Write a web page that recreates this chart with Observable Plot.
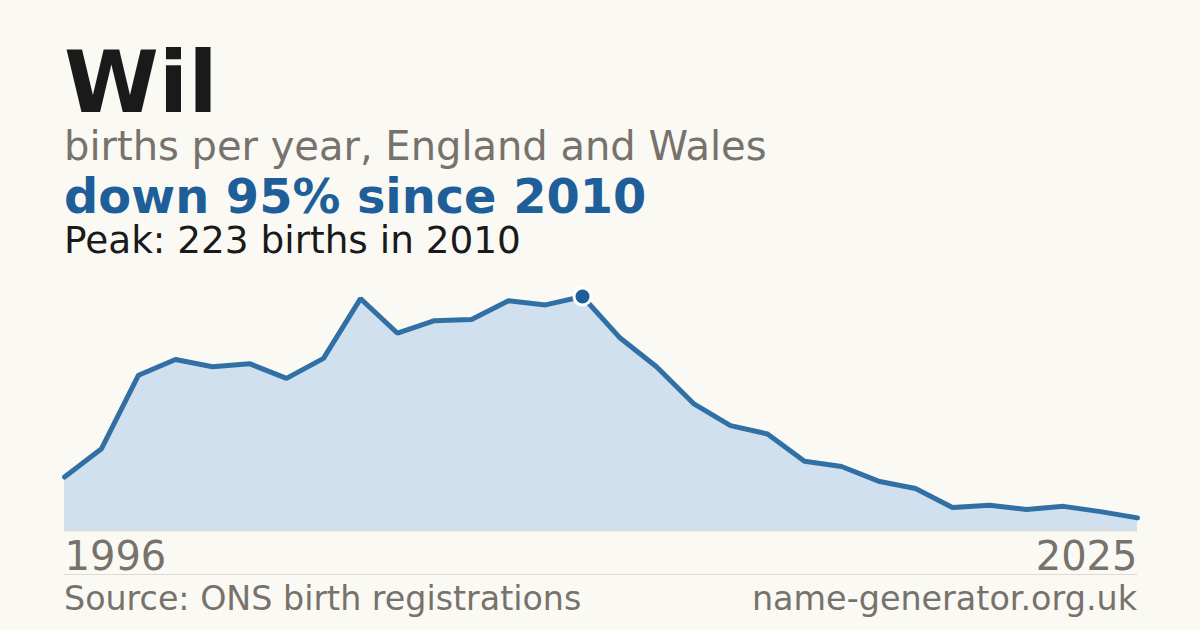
<!DOCTYPE html>
<html>
<head>
<meta charset="utf-8">
<script src="https://cdn.jsdelivr.net/npm/d3@7"></script>
<script src="https://cdn.jsdelivr.net/npm/@observablehq/plot@0.6"></script>
<style>
  html, body { margin: 0; padding: 0; }
  body { width: 1200px; height: 630px; background: #faf9f4; position: relative; overflow: hidden;
         font-family: "DejaVu Sans", sans-serif; }
  .t { position: absolute; left: 64px; line-height: 1; white-space: nowrap; }
  #title { top: 39px; font-size: 86px; font-weight: bold; color: #1a1a1a; }
  #sub { top: 126px; font-size: 40px; color: #77726b; }
  #head { top: 173px; font-size: 47.8px; font-weight: bold; color: #1f5f99; }
  #peak { top: 222px; font-size: 37.4px; color: #1a1a1a; }
  #chart { position: absolute; left: 0; top: 270px; }
  #rule { position: absolute; left: 64px; width: 1073px; top: 574px; height: 1px; background: #dcdad5; }
  #src { position: absolute; left: 64px; top: 582px; font-size: 33.3px; color: #77726b; line-height: 1; white-space: nowrap; }
  #site { position: absolute; right: 63px; top: 582px; font-size: 33.4px; color: #77726b; line-height: 1; white-space: nowrap; }
</style>
</head>
<body>
<div class="t" id="title">Wil</div>
<div class="t" id="sub">births per year, England and Wales</div>
<div class="t" id="head">down 95% since 2010</div>
<div class="t" id="peak">Peak: 223 births in 2010</div>
<div id="chart"></div>
<div id="rule"></div>
<div id="src">Source: ONS birth registrations</div>
<div id="site">name-generator.org.uk</div>
<script>
const years = [1996, 1997, 1998, 1999, 2000, 2001, 2002, 2003, 2004, 2005,
               2006, 2007, 2008, 2009, 2010, 2011, 2012, 2013, 2014, 2015,
               2016, 2017, 2018, 2019, 2020, 2021, 2022, 2023, 2024, 2025];
const births = [51, 78, 148, 163, 156, 159, 145, 164, 221, 188,
                200, 201, 219, 215, 223, 184, 156, 121, 100, 92,
                66, 61, 47, 40, 22, 24, 20, 23, 18, 12];
const peakYear = 2010;
const firstTick = [1996];
const lastTick = [2025];

const data = years.map((year, i) => ({year, births: births[i]}));
const peak = data.filter(d => d.year === peakYear);

const chart = Plot.plot({
  width: 1200,
  height: 300,
  marginLeft: 64,
  marginRight: 63,
  marginTop: 26,
  marginBottom: 40,
  style: {background: "transparent", fontFamily: "DejaVu Sans, sans-serif", overflow: "visible"},
  x: {domain: [1996, 2025], axis: null, label: null},
  y: {domain: [0, 223], axis: null, label: null},
  marks: [
    Plot.areaY(data, {x: "year", y: "births", fill: "#d0e0ef"}),
    Plot.ruleY([0], {stroke: "#dcdad5", strokeWidth: 1.5}),
    Plot.lineY(data, {x: "year", y: "births", stroke: "#3170a4", strokeWidth: 5, strokeLinejoin: "miter"}),
    Plot.dot(peak, {x: "year", y: "births", r: 8.5, fill: "#1f5f99", stroke: "#ffffff", strokeWidth: 3}),
    Plot.axisX(firstTick, {label: null, tickSize: 0, tickPadding: 11, fontSize: 40, fill: "#77726b", textAnchor: "start", tickFormat: d => String(d)}),
    Plot.axisX(lastTick, {label: null, tickSize: 0, tickPadding: 11, fontSize: 40, fill: "#77726b", textAnchor: "end", tickFormat: d => String(d)})
  ]
});
document.getElementById("chart").appendChild(chart);
</script>
</body>
</html>
